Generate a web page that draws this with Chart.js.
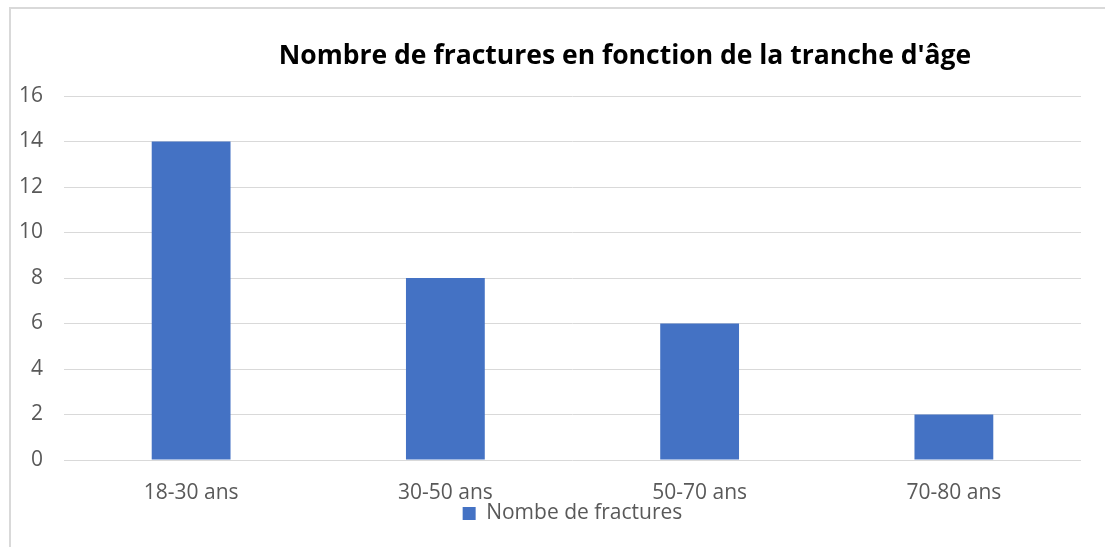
<!DOCTYPE html>
<html>
<head>
<meta charset="utf-8">
<script src="https://cdn.jsdelivr.net/npm/chart.js@4/dist/chart.umd.min.js"></script>
<style>
  body { margin: 0; background: #fff; }
  #wrap { position: relative; width: 1105px; height: 547px; overflow: hidden; }
  #frame { position: absolute; left: 9px; top: 7px; width: 1120px; height: 560px; border: 2px solid #d9d9d9; }
  #title { position: absolute; left: 0; width: 1250px; top: 36px; margin: 0; text-align: center;
           font: bold 26.5px "Open Sans", sans-serif; color: #000; }
  canvas { position: absolute; left: 0; top: 0; }
</style>
</head>
<body>
<div id="wrap">
  <div id="frame"></div>
  <canvas id="mycanvas" width="1105" height="547"></canvas>
  <h1 id="title">Nombre de fractures en fonction de la tranche d'âge</h1>
</div>
<script>
var categories = ['18-30 ans', '30-50 ans', '50-70 ans', '70-80 ans'];
var fractures = [14, 8, 6, 2];
var seriesName = 'Nombe de fractures';
var yTicks = [0, 2, 4, 6, 8, 10, 12, 14, 16];

var textColor = '#595959';
var gridColor = '#d9d9d9';

var chartdata = {
  labels: categories,
  datasets: [
    {
      label: seriesName,
      backgroundColor: '#4472C4',
      borderColor: '#4472C4',
      data: fractures,
      categoryPercentage: 1,
      barPercentage: 0.31
    }
  ]
};

var ctx = document.getElementById('mycanvas');

var barGraph = new Chart(ctx, {
  type: 'bar',
  data: chartdata,
  options: {
    responsive: false,
    animation: false,
    layout: { padding: { left: 0, right: 24, top: 96, bottom: 13 } },
    plugins: {
      title: { display: false },
      tooltip: { enabled: false },
      legend: {
        position: 'bottom',
        fullSize: false,
        labels: {
          boxWidth: 13,
          boxHeight: 13,
          padding: 3,
          color: textColor,
          font: { family: 'Open Sans', size: 21 }
        }
      }
    },
    scales: {
      x: {
        grid: { display: false, drawTicks: false },
        border: { display: false },
        ticks: { color: textColor, padding: 20, font: { family: 'Open Sans', size: 21 } },
        afterFit: function (scale) { scale.height = 40; }
      },
      y: {
        min: yTicks[0],
        max: yTicks[yTicks.length - 1],
        afterBuildTicks: function (scale) {
          scale.ticks = yTicks.map(function (v) { return { value: v }; });
        },
        grid: { color: gridColor, drawTicks: false },
        border: { display: false },
        ticks: { color: textColor, padding: 21, font: { family: 'Open Sans', size: 21 } },
        afterFit: function (scale) { scale.width = 64; }
      }
    }
  }
});
</script>
</body>
</html>
